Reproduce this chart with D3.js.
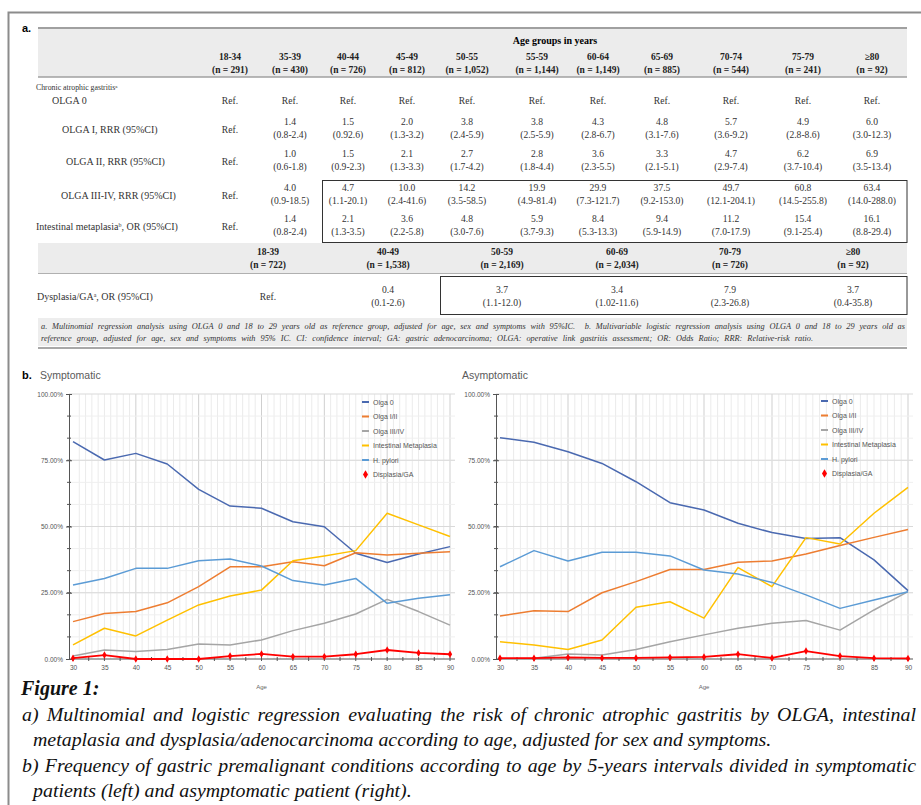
<!DOCTYPE html>
<html>
<head>
<meta charset="utf-8">
<script src="https://cdnjs.cloudflare.com/ajax/libs/d3/7.8.5/d3.min.js"></script>
<style>
  body { margin: 0; background: #fff; }
  svg { display: block; }
</style>
</head>
<body>
<div id="fig"></div>
<script>
// ---- table data (panel a) ----
var ageGroups = ["18-34", "35-39", "40-44", "45-49", "50-55", "55-59", "60-64", "65-69", "70-74", "75-79", "\u226580"];
var groupN = ["291", "430", "726", "812", "1,052", "1,144", "1,149", "885", "544", "241", "92"];

var olga1Est = ["1.4", "1.5", "2.0", "3.8", "3.8", "4.3", "4.8", "5.7", "4.9", "6.0"];
var olga1CI = ["(0.8-2.4)", "(0.92.6)", "(1.3-3.2)", "(2.4-5.9)", "(2.5-5.9)", "(2.8-6.7)", "(3.1-7.6)", "(3.6-9.2)", "(2.8-8.6)", "(3.0-12.3)"];
var olga2Est = ["1.0", "1.5", "2.1", "2.7", "2.8", "3.6", "3.3", "4.7", "6.2", "6.9"];
var olga2CI = ["(0.6-1.8)", "(0.9-2.3)", "(1.3-3.3)", "(1.7-4.2)", "(1.8-4.4)", "(2.3-5.5)", "(2.1-5.1)", "(2.9-7.4)", "(3.7-10.4)", "(3.5-13.4)"];
var olga34Est = ["4.0", "4.7", "10.0", "14.2", "19.9", "29.9", "37.5", "49.7", "60.8", "63.4"];
var olga34CI = ["(0.9-18.5)", "(1.1-20.1)", "(2.4-41.6)", "(3.5-58.5)", "(4.9-81.4)", "(7.3-121.7)", "(9.2-153.0)", "(12.1-204.1)", "(14.5-255.8)", "(14.0-288.0)"];
var imEst = ["1.4", "2.1", "3.6", "4.8", "5.9", "8.4", "9.4", "11.2", "15.4", "16.1"];
var imCI = ["(0.8-2.4)", "(1.3-3.5)", "(2.2-5.8)", "(3.0-7.6)", "(3.7-9.3)", "(5.3-13.3)", "(5.9-14.9)", "(7.0-17.9)", "(9.1-25.4)", "(8.8-29.4)"];

var decadeGroups = ["18-39", "40-49", "50-59", "60-69", "70-79", "\u226580"];
var decadeN = ["722", "1,538", "2,169", "2,034", "726", "92"];
var dyspEst = ["0.4", "3.7", "3.4", "7.9", "3.7"];
var dyspCI = ["(0.1-2.6)", "(1.1-12.0)", "(1.02-11.6)", "(2.3-26.8)", "(0.4-35.8)"];

// ---- line chart data (panel b), percentages ----
var ages = [30, 35, 40, 45, 50, 55, 60, 65, 70, 75, 80, 85, 90];
var seriesNames = ["Olga 0", "Olga I/II", "Olga III/IV", "Intestinal Metaplasia", "H. pylori", "Displasia/GA"];

var symOlga0 = [82.0, 75.1, 77.6, 73.6, 64.0, 57.7, 56.9, 51.8, 49.9, 39.9, 36.4, 39.6, 42.4];
var symOlga12 = [14.1, 17.2, 17.9, 21.2, 27.3, 34.8, 34.8, 36.7, 35.2, 40.1, 39.2, 39.9, 40.5];
var symOlga34 = [1.1, 3.4, 2.8, 3.6, 5.7, 5.3, 7.2, 10.7, 13.5, 17.0, 22.5, 17.9, 12.8];
var symIM = [5.3, 11.6, 8.7, 14.7, 20.4, 23.8, 26.0, 37.1, 38.9, 40.9, 55.0, 50.6, 46.2];
var symHp = [27.9, 30.4, 34.2, 34.2, 37.1, 37.7, 35.1, 29.6, 27.9, 30.4, 21.0, 22.9, 24.2];
var symDysp = [0.3, 1.5, 0.0, 0.0, 0.0, 1.1, 1.9, 0.9, 0.9, 1.8, 3.4, 2.3, 1.8];

var asymOlga0 = [83.5, 81.8, 78.2, 73.8, 66.9, 59.0, 56.2, 51.2, 47.7, 45.5, 45.8, 37.4, 25.8];
var asymOlga12 = [16.2, 18.2, 17.9, 25.0, 29.2, 33.8, 33.8, 36.5, 37.0, 39.6, 42.8, 45.9, 48.9];
var asymOlga34 = [0.0, 0.3, 1.9, 1.5, 3.6, 6.5, 9.1, 11.6, 13.5, 14.5, 10.9, 18.5, 25.4];
var asymIM = [6.5, 5.3, 3.6, 7.2, 19.5, 21.6, 15.4, 34.5, 27.3, 45.8, 43.4, 55.0, 64.8];
var asymHp = [34.8, 40.9, 37.0, 40.3, 40.3, 38.9, 33.6, 32.1, 28.9, 24.2, 19.1, 22.3, 25.4];
var asymDysp = [0.3, 0.3, 0.6, 0.4, 0.4, 0.6, 0.8, 1.8, 0.4, 3.0, 1.1, 0.3, 0.2];

var yTicks = [0, 0.25, 0.5, 0.75, 1];

// ---- layout / styles ----
var width = 921, height = 805;
var serif = "'Liberation Serif', 'Times New Roman', serif";
var sans = "'Liberation Sans', Arial, sans-serif";
var colors = ["#4a69b0", "#ed7d31", "#a5a5a5", "#ffc000", "#5b9bd5", "#ff0000"];
var cellFont = "9.6px";

var svg = d3.select("#fig").append("svg")
    .attr("width", width)
    .attr("height", height);

svg.append("rect").attr("width", width).attr("height", height).attr("fill", "#fff");

// outer frame
svg.append("rect")
    .attr("x", 8.5).attr("y", 12.5)
    .attr("width", 940).attr("height", 820)
    .attr("fill", "none").attr("stroke", "#8c8c8c").attr("stroke-width", 2);

// justify a single text line: widen word spaces, or squeeze if too long
function justify(sel, w) {
    var node = sel.node();
    var len = node.getComputedTextLength();
    var spaces = (node.textContent.match(/ /g) || []).length;
    if (len > w) {
        sel.attr("textLength", w).attr("lengthAdjust", "spacingAndGlyphs");
    } else if (spaces > 0) {
        sel.attr("word-spacing", (w - len) / spaces);
    }
}

// =================== panel a: table ===================
var tbl = svg.append("g");
var tLeft = 38, tRight = 907;

// column positions
var colX = d3.scaleOrdinal().domain(ageGroups)
    .range([230, 290, 348, 407, 467, 537, 598, 662, 731, 803, 872]);
var decX = d3.scaleOrdinal().domain(decadeGroups)
    .range([268, 388, 502, 617, 730, 853]);

tbl.append("text").text("a.")
    .attr("x", 22).attr("y", 32)
    .attr("font-family", sans).attr("font-weight", "bold").attr("font-size", "11px");

// header band
tbl.append("rect")
    .attr("x", tLeft).attr("y", 28).attr("width", tRight - tLeft).attr("height", 49)
    .attr("fill", "#ececec");
tbl.append("line")
    .attr("x1", tLeft).attr("x2", tRight).attr("y1", 28).attr("y2", 28)
    .attr("stroke", "#a0a0a0").attr("stroke-width", 2);
tbl.append("line")
    .attr("x1", tLeft).attr("x2", tRight).attr("y1", 77).attr("y2", 77)
    .attr("stroke", "#a0a0a0").attr("stroke-width", 1.5);

tbl.append("text").text("Age groups in years")
    .attr("x", 555).attr("y", 44)
    .attr("text-anchor", "middle")
    .attr("font-family", serif).attr("font-weight", "bold").attr("font-size", "10px");

tbl.selectAll("text.hd1")
    .data(ageGroups)
    .enter()
    .append("text")
    .attr("class", "hd1")
    .text(function (d) { return d; })
    .attr("x", function (d) { return colX(d); })
    .attr("y", 60)
    .attr("text-anchor", "middle")
    .attr("font-family", serif).attr("font-weight", "bold").attr("font-size", "9.5px")
    .attr("fill", "#222");

tbl.selectAll("text.hd2")
    .data(ageGroups)
    .enter()
    .append("text")
    .attr("class", "hd2")
    .text(function (d, i) { return "(n = " + groupN[i] + ")"; })
    .attr("x", function (d) { return colX(d); })
    .attr("y", 73)
    .attr("text-anchor", "middle")
    .attr("font-family", serif).attr("font-weight", "bold").attr("font-size", "9.5px")
    .attr("fill", "#222");

tbl.append("text").text("Chronic atrophic gastritis")
    .attr("x", 36).attr("y", 90)
    .attr("font-family", serif).attr("font-size", "7.8px").attr("fill", "#333")
    .append("tspan").text("a").attr("baseline-shift", "super").attr("font-size", "5px");

tbl.append("text").text("OLGA 0")
    .attr("x", 52).attr("y", 104)
    .attr("font-family", serif).attr("font-size", "10px").attr("fill", "#333");

tbl.selectAll("text.ref0")
    .data(ageGroups)
    .enter()
    .append("text")
    .attr("class", "ref0")
    .text("Ref.")
    .attr("x", function (d) { return colX(d); })
    .attr("y", 104)
    .attr("text-anchor", "middle")
    .attr("font-family", serif).attr("font-size", cellFont).attr("fill", "#333");

// estimate rows
var rowDefs = [
    { label: "OLGA I, RRR (95%CI)", sup: "", lx: 62, est: olga1Est, ci: olga1CI, y: 125 },
    { label: "OLGA II, RRR (95%CI)", sup: "", lx: 66, est: olga2Est, ci: olga2CI, y: 157 },
    { label: "OLGA III-IV, RRR (95%CI)", sup: "", lx: 61, est: olga34Est, ci: olga34CI, y: 191 },
    { label: "Intestinal metaplasia", sup: "b", rest: ", OR (95%CI)", lx: 36, est: imEst, ci: imCI, y: 222 }
];

rowDefs.forEach(function (r) {
    var lab = tbl.append("text")
        .attr("x", r.lx).attr("y", r.y + 8)
        .attr("font-family", serif).attr("font-size", "10px").attr("fill", "#333")
        .text(r.label);
    if (r.sup) {
        lab.append("tspan").text(r.sup).attr("baseline-shift", "super").attr("font-size", "6px");
        lab.append("tspan").text(r.rest);
    }
    tbl.append("text").text("Ref.")
        .attr("x", colX(ageGroups[0])).attr("y", r.y + 8)
        .attr("text-anchor", "middle")
        .attr("font-family", serif).attr("font-size", cellFont).attr("fill", "#333");
    tbl.selectAll(null)
        .data(r.est)
        .enter()
        .append("text")
        .text(function (d) { return d; })
        .attr("x", function (d, i) { return colX(ageGroups[i + 1]); })
        .attr("y", r.y)
        .attr("text-anchor", "middle")
        .attr("font-family", serif).attr("font-size", cellFont).attr("fill", "#333");
    tbl.selectAll(null)
        .data(r.ci)
        .enter()
        .append("text")
        .text(function (d) { return d; })
        .attr("x", function (d, i) { return colX(ageGroups[i + 1]); })
        .attr("y", r.y + 13)
        .attr("text-anchor", "middle")
        .attr("font-family", serif).attr("font-size", cellFont).attr("fill", "#333");
});

// box around OLGA III-IV / IM from 40-44 on
tbl.append("rect")
    .attr("x", 322.5).attr("y", 180.5).attr("width", tRight - 322.5).attr("height", 62)
    .attr("fill", "none").attr("stroke", "#333").attr("stroke-width", 1);

// decade band
tbl.append("rect")
    .attr("x", tLeft).attr("y", 243).attr("width", tRight - tLeft).attr("height", 30)
    .attr("fill", "#ececec");
tbl.append("line")
    .attr("x1", tLeft).attr("x2", tRight).attr("y1", 273.5).attr("y2", 273.5)
    .attr("stroke", "#b0b0b0").attr("stroke-width", 1);

tbl.selectAll("text.dh1")
    .data(decadeGroups)
    .enter()
    .append("text")
    .attr("class", "dh1")
    .text(function (d) { return d; })
    .attr("x", function (d) { return decX(d); })
    .attr("y", 255)
    .attr("text-anchor", "middle")
    .attr("font-family", serif).attr("font-weight", "bold").attr("font-size", "9.5px").attr("fill", "#222");

tbl.selectAll("text.dh2")
    .data(decadeGroups)
    .enter()
    .append("text")
    .attr("class", "dh2")
    .text(function (d, i) { return "(n = " + decadeN[i] + ")"; })
    .attr("x", function (d) { return decX(d); })
    .attr("y", 268)
    .attr("text-anchor", "middle")
    .attr("font-family", serif).attr("font-weight", "bold").attr("font-size", "9.5px").attr("fill", "#222");

var dl = tbl.append("text")
    .attr("x", 37).attr("y", 300)
    .attr("font-family", serif).attr("font-size", "10px").attr("fill", "#333")
    .text("Dysplasia/GA");
dl.append("tspan").text("a").attr("baseline-shift", "super").attr("font-size", "6px");
dl.append("tspan").text(", OR (95%CI)");

tbl.append("text").text("Ref.")
    .attr("x", decX(decadeGroups[0])).attr("y", 300)
    .attr("text-anchor", "middle")
    .attr("font-family", serif).attr("font-size", cellFont).attr("fill", "#333");

tbl.selectAll("text.de")
    .data(dyspEst)
    .enter()
    .append("text")
    .attr("class", "de")
    .text(function (d) { return d; })
    .attr("x", function (d, i) { return decX(decadeGroups[i + 1]); })
    .attr("y", 293)
    .attr("text-anchor", "middle")
    .attr("font-family", serif).attr("font-size", cellFont).attr("fill", "#333");

tbl.selectAll("text.dc")
    .data(dyspCI)
    .enter()
    .append("text")
    .attr("class", "dc")
    .text(function (d) { return d; })
    .attr("x", function (d, i) { return decX(decadeGroups[i + 1]); })
    .attr("y", 306)
    .attr("text-anchor", "middle")
    .attr("font-family", serif).attr("font-size", cellFont).attr("fill", "#333");

tbl.append("rect")
    .attr("x", 440.5).attr("y", 276.5).attr("width", tRight - 440.5).attr("height", 38)
    .attr("fill", "none").attr("stroke", "#333").attr("stroke-width", 1);

// footnote band
tbl.append("rect")
    .attr("x", tLeft).attr("y", 318).attr("width", tRight - tLeft).attr("height", 28)
    .attr("fill", "#ededed");
tbl.append("line")
    .attr("x1", tLeft).attr("x2", tRight).attr("y1", 348).attr("y2", 348)
    .attr("stroke", "#a8a8a8").attr("stroke-width", 2);

var fn1 = tbl.append("text")
    .text("a. Multinomial regression analysis using OLGA 0 and 18 to 29 years old as reference group, adjusted for age, sex and symptoms with 95%IC.  b. Multivariable logistic regression analysis using OLGA 0 and 18 to 29 years old as")
    .attr("x", 41).attr("y", 329)
    .attr("font-family", serif).attr("font-style", "italic").attr("font-size", "8.3px").attr("fill", "#333")
    .attr("xml:space", "preserve");
justify(fn1, 864);
var fn2 = tbl.append("text")
    .text("reference group, adjusted for age, sex and symptoms with 95% IC. CI: confidence interval; GA: gastric adenocarcinoma; OLGA: operative link gastritis assessment; OR: Odds Ratio; RRR: Relative-risk ratio.")
    .attr("x", 41).attr("y", 341)
    .attr("font-family", serif).attr("font-style", "italic").attr("font-size", "8.3px").attr("fill", "#333");
justify(fn2, 772);

// =================== panel b: line charts ===================
svg.append("text").text("b.")
    .attr("x", 22).attr("y", 379)
    .attr("font-family", sans).attr("font-weight", "bold").attr("font-size", "11px");

function drawChart(cfg) {
    var g = svg.append("g");
    var x = d3.scaleLinear().domain([30, 90]).range([cfg.x0, cfg.x1]);
    var y = d3.scaleLinear().domain([0, 1]).range([659, 394]);
    var right = cfg.x1 + 5;

    g.append("text").text(cfg.title)
        .attr("x", cfg.titleX).attr("y", 379)
        .attr("font-family", sans).attr("font-size", "10.5px").attr("fill", "#5a5a5a");

    // grid
    g.selectAll("line.vg")
        .data(d3.range(31, 91))
        .enter()
        .append("line")
        .attr("x1", function (d) { return x(d); }).attr("x2", function (d) { return x(d); })
        .attr("y1", y(1)).attr("y2", y(0))
        .attr("stroke", function (d) { return d % 10 === 0 ? "#cfcfcf" : "#ebebeb"; })
        .attr("stroke-width", 1);
    g.selectAll("line.hgm")
        .data(d3.range(1, 12).map(function (k) { return k / 12; }))
        .enter()
        .append("line")
        .attr("x1", cfg.x0 - 4).attr("x2", right)
        .attr("y1", function (d) { return y(d); }).attr("y2", function (d) { return y(d); })
        .attr("stroke", "#efefef");
    g.selectAll("line.hg")
        .data(yTicks.slice(1))
        .enter()
        .append("line")
        .attr("x1", cfg.x0 - 4).attr("x2", right)
        .attr("y1", function (d) { return y(d); }).attr("y2", function (d) { return y(d); })
        .attr("stroke", "#d9d9d9");

    // axes
    var yAxis = d3.axisLeft(y).tickValues(yTicks).tickFormat(d3.format(".2%")).tickSize(3).tickPadding(3);
    var ya = g.append("g").attr("transform", "translate(" + (cfg.x0 - 4) + ",0)").call(yAxis);
    ya.select(".domain").attr("stroke", "#555");
    ya.selectAll(".tick line").attr("stroke", "#555").attr("x2", 3).attr("x1", -3);
    ya.selectAll("text").attr("font-family", sans).attr("font-size", "6.5px").attr("fill", "#555");
    g.selectAll("line.ymt")
        .data(d3.range(1, 12).map(function (k) { return k / 12; }))
        .enter()
        .append("line")
        .attr("x1", cfg.x0 - 6).attr("x2", cfg.x0 - 2)
        .attr("y1", function (d) { return y(d); }).attr("y2", function (d) { return y(d); })
        .attr("stroke", "#555");

    var xAxis = d3.axisBottom(x).tickValues(ages).tickFormat(d3.format("d")).tickSize(0).tickPadding(6);
    var xa = g.append("g").attr("transform", "translate(0," + y(0) + ")").call(xAxis);
    xa.select(".domain").remove();
    xa.selectAll("text").attr("font-family", sans).attr("font-size", "6.5px").attr("fill", "#555");
    g.append("line")
        .attr("x1", cfg.x0 - 4).attr("x2", right)
        .attr("y1", y(0)).attr("y2", y(0))
        .attr("stroke", "#555");
    g.selectAll("line.xmt")
        .data(d3.range(30, 90.1, 2.5))
        .enter()
        .append("line")
        .attr("x1", function (d) { return x(d); }).attr("x2", function (d) { return x(d); })
        .attr("y1", y(0) - 2).attr("y2", y(0) + 2)
        .attr("stroke", "#555");

    g.append("text").text("Age")
        .attr("x", (cfg.x0 + cfg.x1) / 2).attr("y", 689)
        .attr("text-anchor", "middle")
        .attr("font-family", sans).attr("font-size", "6px").attr("fill", "#666");

    // lines
    var line = d3.line()
        .x(function (d, i) { return x(ages[i]); })
        .y(function (d) { return y(d / 100); });

    cfg.series.forEach(function (s, k) {
        g.append("path")
            .datum(s)
            .attr("d", line)
            .attr("fill", "none")
            .attr("stroke", colors[k])
            .attr("stroke-width", k === 5 ? 1.8 : 1.5)
            .attr("stroke-linejoin", "round");
    });

    // dysplasia markers
    g.selectAll("path.mk")
        .data(cfg.series[5])
        .enter()
        .append("path")
        .attr("d", d3.symbol().type(d3.symbolDiamond).size(16))
        .attr("transform", function (d, i) { return "translate(" + x(ages[i]) + "," + y(d / 100) + ")"; })
        .attr("fill", colors[5]);

    // legend
    var lg = g.append("g");
    seriesNames.forEach(function (name, k) {
        var ly = cfg.legendY + k * 14.5;
        if (k === 5) {
            lg.append("path")
                .attr("d", d3.symbol().type(d3.symbolDiamond).size(22))
                .attr("transform", "translate(" + (cfg.legendX + 3.5) + "," + ly + ")")
                .attr("fill", colors[k]);
        } else {
            lg.append("line")
                .attr("x1", cfg.legendX).attr("x2", cfg.legendX + 7)
                .attr("y1", ly).attr("y2", ly)
                .attr("stroke", colors[k]).attr("stroke-width", 2);
        }
        lg.append("text").text(name)
            .attr("x", cfg.legendX + 11).attr("y", ly + 2.5)
            .attr("font-family", sans).attr("font-size", "7px").attr("fill", "#555");
    });
}

drawChart({
    title: "Symptomatic", titleX: 40,
    x0: 73, x1: 450,
    legendX: 362, legendY: 402,
    series: [symOlga0, symOlga12, symOlga34, symIM, symHp, symDysp]
});

drawChart({
    title: "Asymptomatic", titleX: 462,
    x0: 500, x1: 908,
    legendX: 821, legendY: 401,
    series: [asymOlga0, asymOlga12, asymOlga34, asymIM, asymHp, asymDysp]
});

// =================== caption ===================
var cap = svg.append("g")
    .attr("font-family", serif).attr("font-style", "italic").attr("fill", "#111");

cap.append("text").text("Figure 1:")
    .attr("x", 21).attr("y", 695)
    .attr("font-weight", "bold").attr("font-size", "20px");

var capLines = [
    { t: "a) Multinomial and logistic regression evaluating the risk of chronic atrophic gastritis by OLGA, intestinal", x: 22, y: 721, w: 894 },
    { t: "metaplasia and dysplasia/adenocarcinoma according to age, adjusted for sex and symptoms.", x: 33, y: 746, w: 0 },
    { t: "b) Frequency of gastric premalignant conditions according to age by 5-years intervals divided in symptomatic", x: 22, y: 772, w: 894 },
    { t: "patients (left) and asymptomatic patient (right).", x: 33, y: 797, w: 0 }
];

// size the caption so the un-justified second line spans its width in the figure
var probe = cap.append("text").text(capLines[1].t).attr("font-size", "20px");
var capSize = 20 * 739 / probe.node().getComputedTextLength();
probe.remove();

capLines.forEach(function (c) {
    var t = cap.append("text").text(c.t)
        .attr("x", c.x).attr("y", c.y)
        .attr("font-size", capSize + "px");
    if (c.w) justify(t, c.w);
});
</script>
</body>
</html>
